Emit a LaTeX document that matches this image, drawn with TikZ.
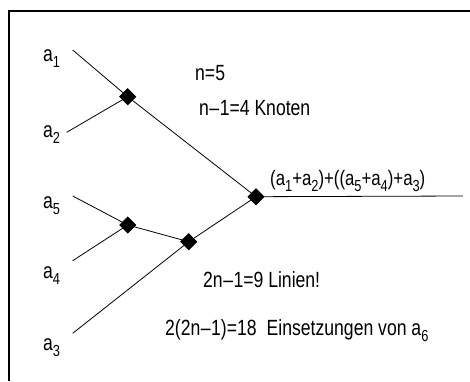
\documentclass[tikz,border=0pt]{standalone}
\usepackage{fontspec}
\setmainfont[FakeStretch=0.8]{Liberation Sans}
\usetikzlibrary{shapes.geometric}
\newcommand{\sbx}[1]{\raisebox{-0.3em}{\fontsize{16}{16}\selectfont #1}}
\newcommand{\mn}{\kern0.5pt–\kern0.5pt}
\begin{document}
\begin{tikzpicture}[x=1pt,y=-1pt,
  knot/.style={diamond,fill=black,inner sep=0pt,minimum width=17pt,minimum height=17pt},
  edge/.style={draw=black,line width=0.8pt},
  lbl/.style={anchor=base west,inner sep=0pt,font=\fontsize{22}{24}\selectfont}]
\useasboundingbox (0,0) rectangle (470,381);
\draw[line width=2pt] (9,381) -- (9,11) -- (470,11);
% free ends
\coordinate (e1) at (72.7,50);
\coordinate (e2) at (66.7,132.3);
\coordinate (e5) at (72.7,196);
\coordinate (e4) at (72.7,260.7);
\coordinate (e3) at (72.7,333.3);
\coordinate (out) at (463,196);
% knots
\node[knot] (k12) at (127.7,96.7) {};
\node[knot] (k54) at (127.7,225) {};
\node[knot] (k543) at (188.7,241.7) {};
\node[knot] (root) at (256,196.7) {};
% edges
\draw[edge] (e1) -- (k12.center);
\draw[edge] (e2) -- (k12.center);
\draw[edge] (k12.center) -- (root.center);
\draw[edge] (e5) -- (k54.center);
\draw[edge] (e4) -- (k54.center);
\draw[edge] (k54.center) -- (k543.center);
\draw[edge] (e3) -- (k543.center);
\draw[edge] (k543.center) -- (root.center);
\draw[edge] (root.center) -- (out);
\node[knot] at (k12) {};
\node[knot] at (k54) {};
\node[knot] at (k543) {};
\node[knot] at (root) {};
% labels
\node[lbl] (l1) at (43,61) {a\sbx{1}};
\node[lbl] (l2) at (43,137) {a\sbx{2}};
\node[lbl] (l5) at (43,208) {a\sbx{5}};
\node[lbl] (l4) at (43,278) {a\sbx{4}};
\node[lbl] (l3) at (43,350) {a\sbx{3}};
\node[lbl] (t1) at (195,80) {n=5};
\node[lbl] (t2) at (199,115) {n\mn1=4 Knoten};
\node[lbl,font=\fontsize{21}{23}\selectfont] (t3) at (270,185) {(a\sbx{1}+a\sbx{2})+((a\sbx{5}+a\sbx{4})+a\sbx{3})};
\node[lbl] (t4) at (203,287) {2n\mn1=9 Linien!};
\node[lbl] (t5) at (165,335) {2(2n\mn1)=18\hspace{10pt}Einsetzungen von a\sbx{6}};
\end{tikzpicture}
\end{document}
